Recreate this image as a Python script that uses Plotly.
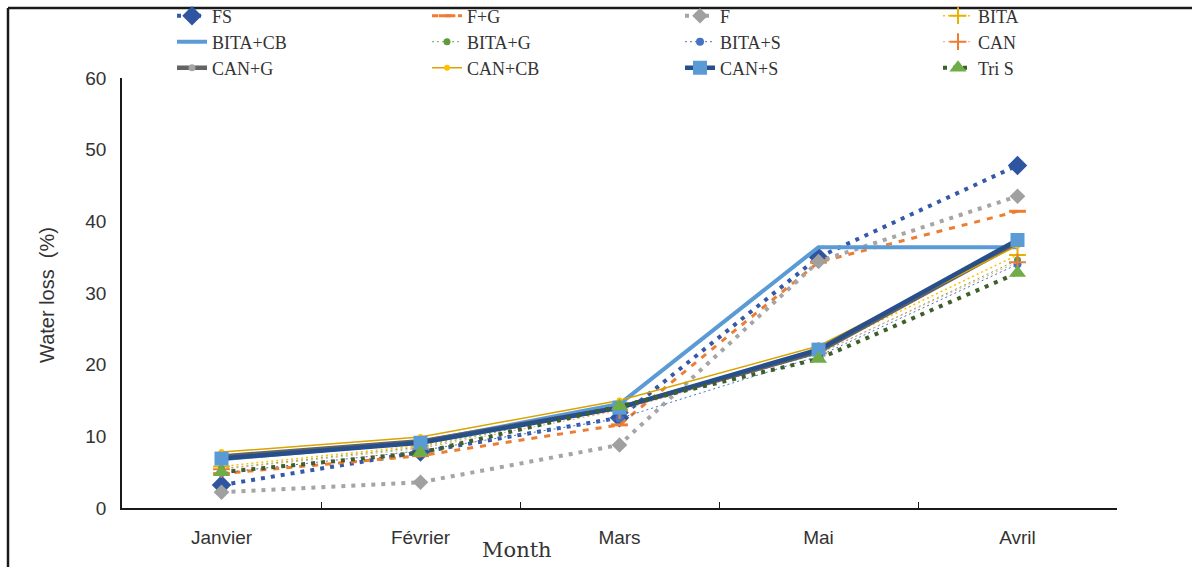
import plotly.graph_objects as go

# Months on the category axis
months = ["Janvier", "Février", "Mars", "Mai", "Avril"]

# Water loss (%) per treatment
fs = [3.2, 7.8, 12.6, 35.0, 47.8]
f_g = [4.8, 7.3, 11.6, 34.3, 41.4]
f = [2.2, 3.6, 8.8, 34.4, 43.5]
bita = [5.8, 8.7, 14.2, 22.0, 35.3]
bita_cb = [6.8, 9.2, 14.5, 36.4, 36.4]
bita_g = [5.5, 8.5, 14.0, 21.5, 34.6]
bita_s = [4.9, 8.0, 12.5, 21.2, 34.0]
can = [5.4, 8.3, 13.6, 21.6, 34.3]
can_g = [7.2, 9.3, 14.0, 21.8, 37.0]
can_cb = [7.8, 9.9, 15.0, 22.6, 36.6]
can_s = [6.9, 9.1, 14.0, 22.1, 37.4]
tri_s = [5.0, 7.7, 14.2, 20.8, 32.8]

y_ticks = [0, 10, 20, 30, 40, 50, 60]

series = [
    # name, values, line color, width, dash, marker symbol, marker size, marker color
    ("FS", fs, "#3559A8", 4, "4px,6px", "diamond", 15, "#2F55A0"),
    ("F+G", f_g, "#ED7D31", 3, "6px,7px", "line-ew", 12, "#ED7D31"),
    ("F", f, "#A5A5A5", 4, "4px,6px", "diamond", 12, "#A0A0A0"),
    ("BITA", bita, "#FFC000", 1.5, "2px,3px", "cross-thin", 12, "#E8B000"),
    ("BITA+CB", bita_cb, "#5B9BD5", 4, "solid", None, 0, "#5B9BD5"),
    ("BITA+G", bita_g, "#70AD47", 1, "2px,3px", "circle", 7, "#5F9A3C"),
    ("BITA+S", bita_s, "#4472C4", 1, "2px,3px", "circle", 8, "#4472C4"),
    ("CAN", can, "#F4A27A", 1, "2px,3px", "cross-thin", 12, "#ED7D31"),
    ("CAN+G", can_g, "#636363", 4.5, "solid", "circle", 7, "#A5A5A5"),
    ("CAN+CB", can_cb, "#D9A400", 1.5, "solid", "circle", 6, "#FFC000"),
    ("CAN+S", can_s, "#264F8C", 4.5, "solid", "square", 14, "#5B9BD5"),
    ("Tri S", tri_s, "#3E5E2A", 4, "4px,6px", "triangle-up", 15, "#70AD47"),
]

# figure and plot-area geometry in pixels
W, H = 1192, 567
L, R, T, B = 122, 75, 78, 59
pw, ph = W - L - R, H - T - B


def px_x(px):
    return (px - L) / pw


def px_y(py):
    return (H - B - py) / ph


# legend grid: 4 columns x 3 rows (entry start x, row centre y)
legend_cols = [172, 427, 680, 938]
legend_rows = [16, 42, 68]
legend_font = dict(family="Liberation Serif", size=18, color="#333333")

fig = go.Figure()
legend_layouts = {}
for i, (name, vals, lc, lw, dash, sym, ms, mc) in enumerate(series):
    marker = dict(size=ms, color=mc, symbol=sym if sym else "circle")
    if sym in ("line-ew", "cross-thin"):
        marker["line"] = dict(color=mc, width=3 if sym == "line-ew" else 2)
    key = "legend" if i == 0 else f"legend{i + 1}"
    fig.add_trace(go.Scatter(
        x=months, y=vals, name=name,
        mode="lines+markers" if sym else "lines",
        line=dict(color=lc, width=lw, dash=dash),
        marker=marker,
        legend=key,
    ))
    legend_layouts[key] = dict(
        x=px_x(legend_cols[i % 4]), y=px_y(legend_rows[i // 4]),
        xanchor="left", yanchor="middle", orientation="h",
        bgcolor="rgba(0,0,0,0)", font=legend_font, itemwidth=30,
    )

fig.update_layout(
    width=W, height=H,
    margin=dict(l=L, r=R, t=T, b=B, autoexpand=False),
    paper_bgcolor="white", plot_bgcolor="white",
    showlegend=True,
    xaxis=dict(
        type="category", range=[-0.5, 4.5], showgrid=False, showline=True,
        linecolor="#1a1a1a", linewidth=2,
        ticks="inside", tickson="boundaries", ticklen=6, tickcolor="#1a1a1a",
        tickfont=dict(family="Liberation Sans", size=19, color="#333333"),
        ticklabelstandoff=11,
    ),
    yaxis=dict(
        range=[0, 60], tickvals=y_ticks, showgrid=False, zeroline=False,
        showline=True, linecolor="#1a1a1a", linewidth=1.5,
        tickfont=dict(family="Liberation Sans", size=19, color="#333333"),
        ticklabelstandoff=10,
    ),
    annotations=[
        dict(text="Month", x=px_x(517), y=px_y(550), xref="paper", yref="paper",
             xanchor="center", yanchor="middle", showarrow=False,
             font=dict(family="DejaVu Serif", size=21, color="#333333")),
        dict(text="Water loss  (%)", x=px_x(47), y=px_y(295), xref="paper", yref="paper",
             xanchor="center", yanchor="middle", showarrow=False, textangle=-90,
             font=dict(family="Liberation Sans", size=20, color="#333333")),
    ],
    shapes=[
        dict(type="line", xref="paper", yref="paper",
             x0=px_x(8), x1=px_x(1200), y0=px_y(8), y1=px_y(8),
             line=dict(color="#1a1a1a", width=2.5)),
        dict(type="line", xref="paper", yref="paper",
             x0=px_x(8), x1=px_x(8), y0=px_y(8), y1=px_y(575),
             line=dict(color="#1a1a1a", width=2.5)),
    ],
    **legend_layouts,
)

fig.write_html("out.html")
